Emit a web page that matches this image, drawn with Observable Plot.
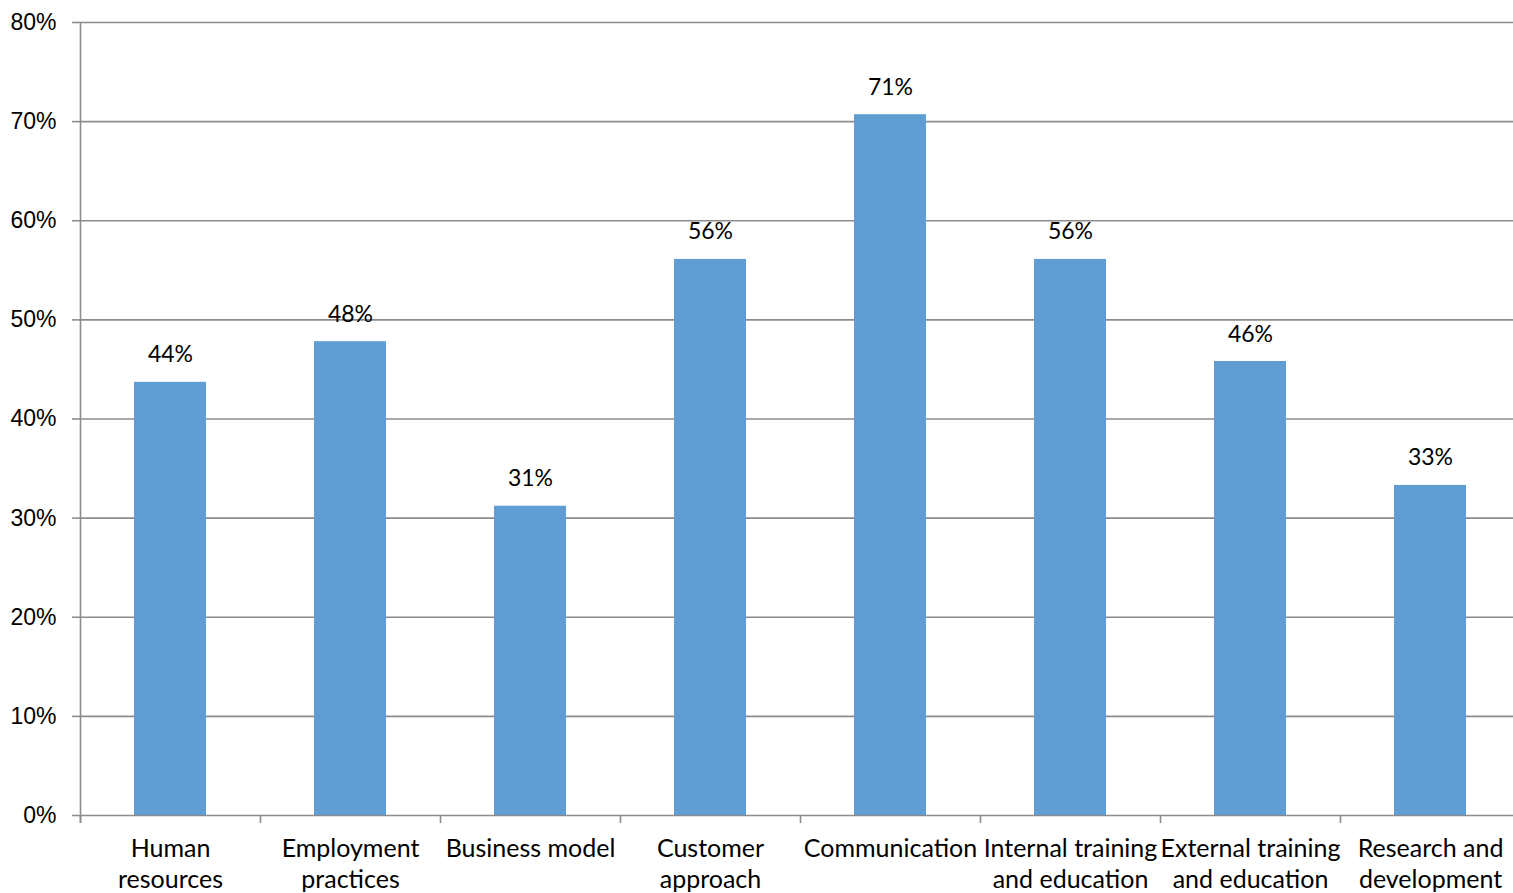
<!DOCTYPE html>
<html>
<head>
<meta charset="utf-8">
<script src="https://cdn.jsdelivr.net/npm/d3@7"></script>
<script src="https://cdn.jsdelivr.net/npm/@observablehq/plot@0.6"></script>
<style>
  html, body { margin: 0; padding: 0; background: #fff; }
  #chart svg { display: block; }
</style>
</head>
<body>
<div id="chart"></div>
<script>
const categories = ["Human resources", "Employment practices", "Business model", "Customer approach", "Communication", "Internal training and education", "External training and education", "Research and development"];
const tickLabels = ["Human\nresources", "Employment\npractices", "Business model", "Customer\napproach", "Communication", "Internal training\nand education", "External training\nand education", "Research and\ndevelopment"];
const values = [0.437, 0.478, 0.312, 0.561, 0.707, 0.561, 0.458, 0.333];
const valueLabels = ["44%", "48%", "31%", "56%", "71%", "56%", "46%", "33%"];
const yTicks = [0, 0.1, 0.2, 0.3, 0.4, 0.5, 0.6, 0.7, 0.8];

const data = categories.map((c, i) => ({category: c, value: values[i], label: valueLabels[i]}));
const labelOf = new Map(categories.map((c, i) => [c, tickLabels[i]]));

const W = 1513, H = 893, ML = 80, XR = 1520;
const step = (XR - ML) / categories.length;
const grid = "#8c8c8c";

const chart = Plot.plot({
  width: W,
  height: H,
  marginLeft: ML,
  marginRight: 0,
  marginTop: 22,
  marginBottom: 78,
  style: {fontFamily: "Lato, sans-serif", background: "#fff"},
  x: {domain: categories, range: [ML, XR], paddingInner: 0.6, paddingOuter: 0.3, label: null},
  y: {domain: [0, 0.8], label: null},
  marks: [
    Plot.ruleY(yTicks, {stroke: grid, strokeWidth: 1.6}),
    Plot.barY(data, {x: "category", y: "value", fill: "#5f9dd2"}),
    Plot.ruleX(categories, {x: d => d, dx: -step / 2, y1: 0, y2: 0, insetBottom: -8, stroke: grid, strokeWidth: 1.6}),
    Plot.ruleX(categories.slice(0, 1), {x: d => d, dx: -step / 2, y1: 0.8, y2: 0, insetBottom: -8, stroke: grid, strokeWidth: 1.6}),
    Plot.axisY({ticks: yTicks, tickFormat: d3.format(".0%"), tickSize: 8, tickPadding: 16, stroke: grid, strokeWidth: 1.6, fontSize: 23, fontFamily: "'Liberation Sans', Arial, sans-serif", fill: "#000"}),
    Plot.axisX({tickSize: 0, tickPadding: 19, tickFormat: d => labelOf.get(d), fontSize: 25, lineHeight: 1.24, fill: "#000"}),
    Plot.text(data, {x: "category", y: "value", text: "label", lineAnchor: "bottom", dy: -20, fontSize: 23, fill: "#000"})
  ]
});
document.getElementById("chart").appendChild(chart);
</script>
</body>
</html>
